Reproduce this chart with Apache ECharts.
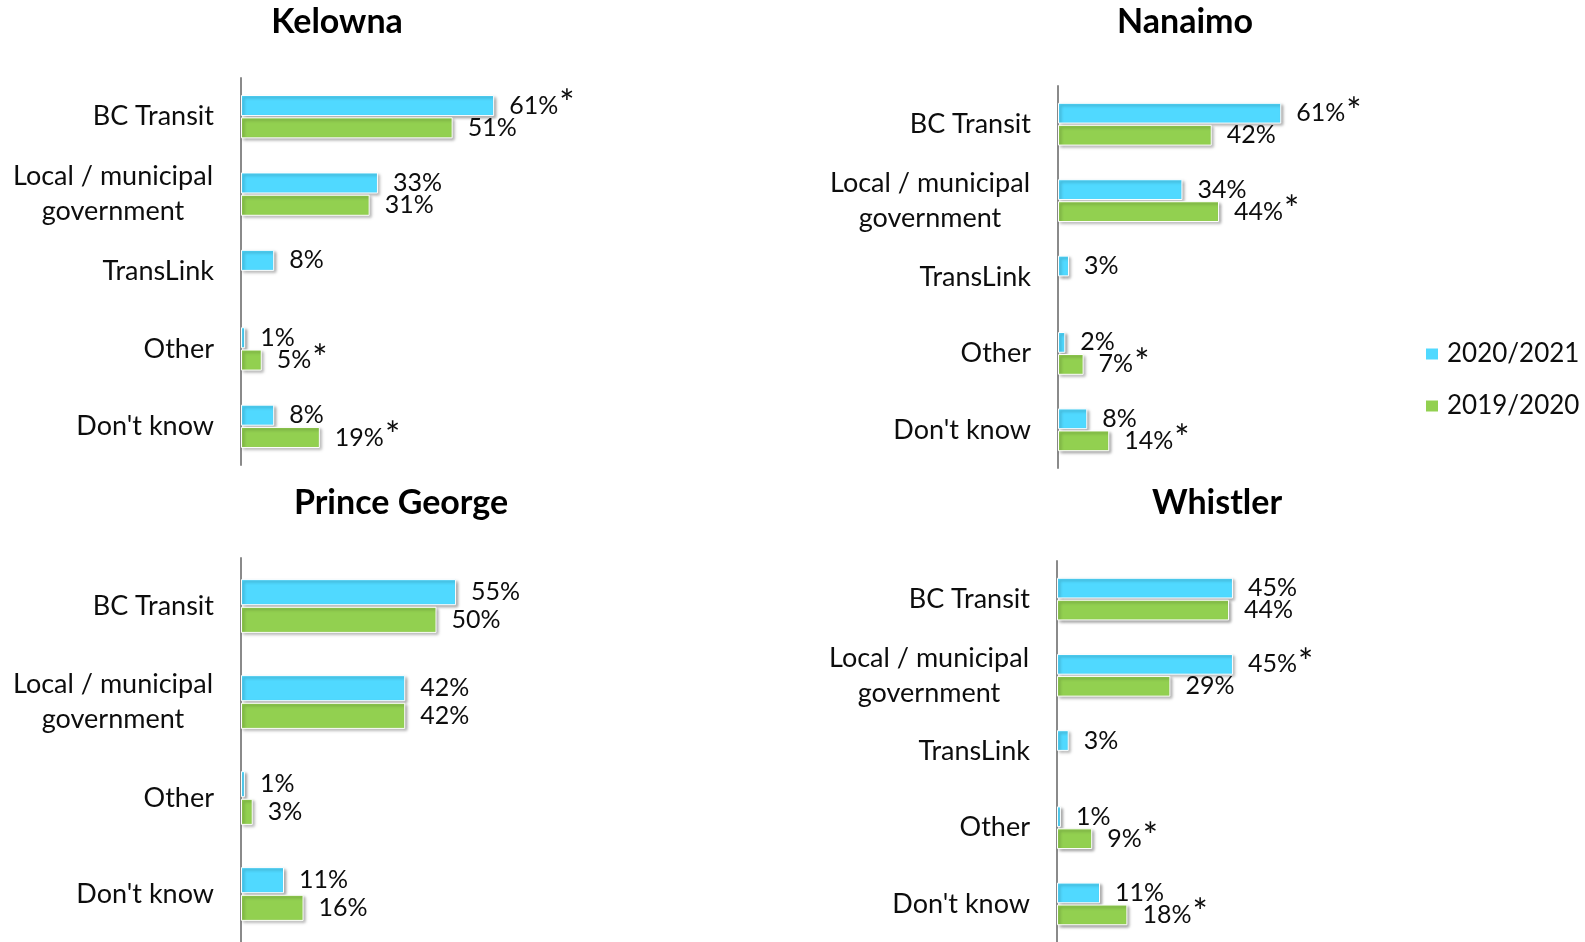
<!DOCTYPE html>
<html>
<head>
<meta charset="utf-8">
<script src="https://cdn.jsdelivr.net/npm/echarts@6/dist/echarts.min.js"></script>
<style>
  html, body { margin: 0; padding: 0; background: #fff; }
  #chart { width: 1585px; height: 942px; }
</style>
</head>
<body>
<div id="chart"></div>
<script>
// categories
const cats5 = ['BC Transit', 'Local / municipal\ngovernment', 'TransLink', 'Other', "Don't know"];
const cats4 = ['BC Transit', 'Local / municipal\ngovernment', 'Other', "Don't know"];

// Kelowna
const kelownaNow = [61, 33, 8, 1, 8];
const kelownaPrev = [51, 31, null, 5, 19];
const kelownaSigNow = [1, 0, 0, 0, 0];
const kelownaSigPrev = [0, 0, 0, 1, 1];

// Nanaimo
const nanaimoNow = [61, 34, 3, 2, 8];
const nanaimoPrev = [42, 44, null, 7, 14];
const nanaimoSigNow = [1, 0, 0, 0, 0];
const nanaimoSigPrev = [0, 1, 0, 1, 1];

// Prince George
const pgNow = [55, 42, 1, 11];
const pgPrev = [50, 42, 3, 16];
const pgSigNow = [0, 0, 0, 0];
const pgSigPrev = [0, 0, 0, 0];

// Whistler
const whistlerNow = [45, 45, 3, 1, 11];
const whistlerPrev = [44, 29, null, 9, 18];
const whistlerSigNow = [0, 1, 0, 0, 0];
const whistlerSigPrev = [0, 0, 0, 1, 1];

const seriesNames = ['2020/2021', '2019/2020'];
const colors = ['#50d9ff', '#92d050'];
const FONT = 'Lato';

const panels = [
  { title: 'Kelowna', cats: cats5, now: kelownaNow, prev: kelownaPrev, sNow: kelownaSigNow, sPrev: kelownaSigPrev,
    grid: { left: 241, top: 78, width: 415, height: 387 }, tx: 337, ty: 5 },
  { title: 'Nanaimo', cats: cats5, now: nanaimoNow, prev: nanaimoPrev, sNow: nanaimoSigNow, sPrev: nanaimoSigPrev,
    grid: { left: 1058, top: 86, width: 366, height: 382 }, tx: 1185, ty: 5 },
  { title: 'Prince George', cats: cats4, now: pgNow, prev: pgPrev, sNow: pgSigNow, sPrev: pgSigPrev,
    grid: { left: 241, top: 558, width: 391, height: 401 }, tx: 401, ty: 486 },
  { title: 'Whistler', cats: cats5, now: whistlerNow, prev: whistlerPrev, sNow: whistlerSigNow, sPrev: whistlerSigPrev,
    grid: { left: 1057, top: 561, width: 391, height: 393 }, tx: 1217, ty: 486 }
];

function catLabel(v) {
  if (v.indexOf('\n') >= 0) {
    return v.split('\n').map(s => '{c|' + s + '}').join('\n');
  }
  return v;
}

function makeSeries(name, data, sig, color, idx) {
  return {
    name: name,
    type: 'bar',
    xAxisIndex: idx,
    yAxisIndex: idx,
    data: data,
    barGap: '6%',
    barCategoryGap: '44%',
    itemStyle: {
      color: color,
      borderColor: '#ffffff',
      borderWidth: 1,
      shadowColor: 'rgba(0,0,0,0.35)',
      shadowBlur: 3,
      shadowOffsetX: 2,
      shadowOffsetY: 2
    },
    label: {
      show: true,
      position: 'right',
      distance: 15,
      fontFamily: FONT,
      fontSize: 25,
      color: '#0d0d0d',
      formatter: p => p.value + '%' + (sig[p.dataIndex] ? '{s|*}' : ''),
      rich: {
        s: { fontFamily: FONT, fontSize: 36, color: '#0d0d0d', padding: [0, 0, 2, 1] }
      }
    },
    emphasis: { disabled: true }
  };
}

const grids = [], xAxes = [], yAxes = [], series = [], titles = [];
panels.forEach((p, i) => {
  grids.push(p.grid);
  xAxes.push({ gridIndex: i, type: 'value', min: 0, max: 100, show: false });
  yAxes.push({
    gridIndex: i,
    type: 'category',
    inverse: true,
    data: p.cats,
    axisLine: { show: true, lineStyle: { color: '#8a8a8a', width: 2 } },
    axisTick: { show: false },
    axisLabel: {
      margin: 27,
      fontFamily: FONT,
      fontSize: 27,
      color: '#0d0d0d',
      lineHeight: 35,
      formatter: catLabel,
      rich: {
        c: { fontFamily: FONT, fontSize: 27, color: '#0d0d0d', width: 202, align: 'center', lineHeight: 35 }
      }
    }
  });
  series.push(makeSeries(seriesNames[0], p.now, p.sNow, colors[0], i));
  series.push(makeSeries(seriesNames[1], p.prev, p.sPrev, colors[1], i));
  titles.push({
    text: p.title,
    left: p.tx,
    top: p.ty,
    textAlign: 'center',
    padding: 0,
    textStyle: { fontFamily: FONT, fontWeight: 'bold', fontSize: 34, color: '#000' }
  });
});

const chart = echarts.init(document.getElementById('chart'));
chart.setOption({
  animation: false,
  color: colors,
  title: titles,
  legend: {
    data: seriesNames,
    orient: 'vertical',
    left: 1424,
    top: 341,
    padding: 0,
    icon: 'rect',
    itemWidth: 14,
    itemHeight: 13,
    itemGap: 26,
    textStyle: { fontFamily: FONT, fontSize: 26, color: '#0d0d0d', lineHeight: 26, padding: [0, 0, 0, 3] }
  },
  grid: grids,
  xAxis: xAxes,
  yAxis: yAxes,
  series: series
});
</script>
</body>
</html>
